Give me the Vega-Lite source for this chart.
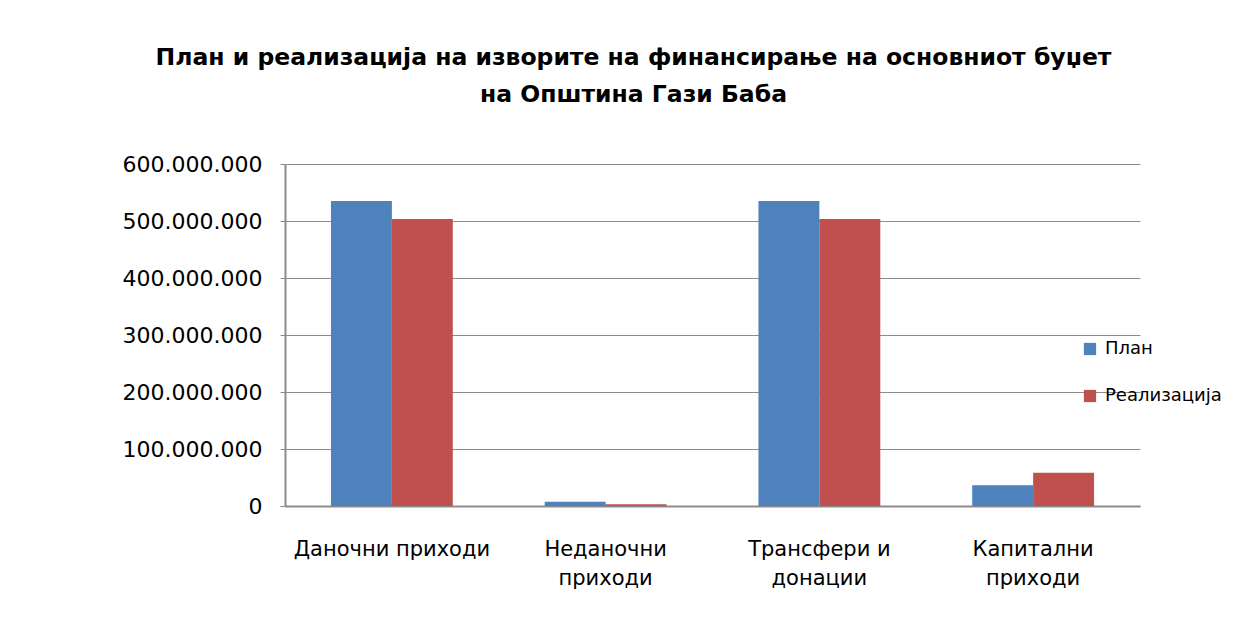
{
  "$schema": "https://vega.github.io/schema/vega-lite/v6.json",
  "autosize": {"type": "none"},
  "width": 855,
  "height": 342,
  "padding": {"left": 285, "top": 164, "right": 114, "bottom": 114},
  "background": "white",
  "title": {
    "text": ["План и реализација на изворите на финансирање на основниот буџет", "на Општина Гази Баба"],
    "font": "DejaVu Sans",
    "fontSize": 23.5,
    "fontWeight": "bold",
    "color": "black",
    "anchor": "middle",
    "frame": "group",
    "dx": -79,
    "offset": 47,
    "lineHeight": 37
  },
  "data": {
    "values": [
      {"category": "Даночни приходи", "series": "План", "value": 535000000},
      {"category": "Даночни приходи", "series": "Реализација", "value": 503500000},
      {"category": "Неданочни приходи", "series": "План", "value": 7500000},
      {"category": "Неданочни приходи", "series": "Реализација", "value": 3000000},
      {"category": "Трансфери и донации", "series": "План", "value": 535000000},
      {"category": "Трансфери и донации", "series": "Реализација", "value": 503500000},
      {"category": "Капитални приходи", "series": "План", "value": 36500000},
      {"category": "Капитални приходи", "series": "Реализација", "value": 58300000}
    ]
  },
  "mark": {"type": "bar"},
  "encoding": {
    "x": {
      "field": "category",
      "type": "nominal",
      "sort": null,
      "scale": {"paddingInner": 0.43, "paddingOuter": 0.215},
      "axis": {
        "title": null,
        "labelAngle": 0,
        "labelFont": "DejaVu Sans",
        "labelFontSize": 21,
        "labelColor": "black",
        "labelPadding": 32,
        "labelLineHeight": 29,
        "labelBaseline": "top",
        "labelLimit": 0,
        "labelOverlap": false,
        "ticks": false,
        "domainColor": "#8c8c8c",
        "domainWidth": 2,
        "labelExpr": "datum.value == 'Неданочни приходи' ? ['Неданочни', 'приходи'] : datum.value == 'Трансфери и донации' ? ['Трансфери и', 'донации'] : datum.value == 'Капитални приходи' ? ['Капитални', 'приходи'] : datum.value"
      }
    },
    "xOffset": {"field": "series", "type": "nominal", "sort": ["План", "Реализација"], "scale": {"paddingInner": 0, "paddingOuter": 0}},
    "y": {
      "field": "value",
      "type": "quantitative",
      "scale": {"domain": [0, 600000000], "nice": false},
      "axis": {
        "title": null,
        "values": [0, 100000000, 200000000, 300000000, 400000000, 500000000, 600000000],
        "labelExpr": "join(split(format(datum.value, ','), ','), '.')",
        "labelFont": "DejaVu Sans",
        "labelFontSize": 22,
        "labelColor": "black",
        "labelPadding": 18,
        "tickSize": 5,
        "tickColor": "#8c8c8c",
        "domainColor": "#8c8c8c",
        "domainWidth": 2,
        "gridColor": "#8c8c8c",
        "gridWidth": 1.2
      }
    },
    "color": {
      "field": "series",
      "type": "nominal",
      "sort": ["План", "Реализација"],
      "scale": {"domain": ["План", "Реализација"], "range": ["#4F81BD", "#C0504D"]},
      "legend": {
        "title": null,
        "orient": "none",
        "legendX": 796,
        "legendY": 176,
        "symbolType": "square",
        "symbolSize": 150,
        "symbolStrokeWidth": 0,
        "labelFont": "DejaVu Sans",
        "labelFontSize": 18,
        "labelColor": "black",
        "labelOffset": 6,
        "rowPadding": 29
      }
    }
  },
  "config": {
    "view": {"stroke": null},
    "axis": {"grid": true},
    "axisX": {"grid": false}
  }
}
